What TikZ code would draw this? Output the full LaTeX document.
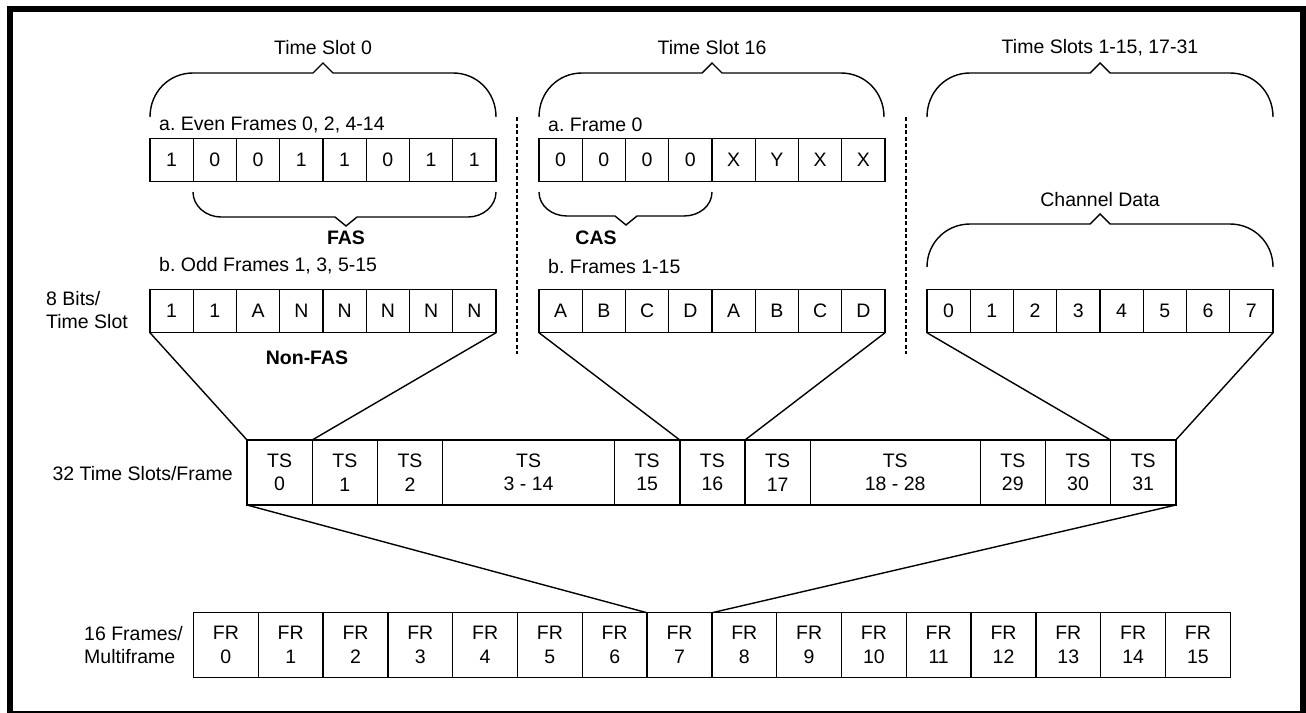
\documentclass[tikz,border=0pt]{standalone}
\usepackage{fontspec}
\setmainfont{Liberation Sans}
\usepackage{tikz}
\usetikzlibrary{positioning}
\newcommand{\cellfont}{\fontsize{19.5pt}{23.5pt}\selectfont}
\frenchspacing

\begin{document}
\begin{tikzpicture}[
    x=1pt, y=-1pt,
    bit/.style={rectangle, draw, line width=1.4pt, minimum width=43.25pt, minimum height=43.5pt, inner sep=0pt, outer sep=0pt, font=\cellfont},
    slot/.style={rectangle, draw, line width=1.4pt, minimum width=65.2pt, minimum height=65pt, inner sep=0pt, outer sep=0pt, align=center, font=\cellfont},
    fr/.style={rectangle, draw, line width=1.4pt, minimum width=64.8pt, minimum height=64.5pt, inner sep=0pt, outer sep=0pt, align=center, font=\cellfont},
    lbl/.style={inner sep=0pt, align=left, font=\cellfont},
    bold/.style={inner sep=0pt, font=\cellfont\bfseries},
    link/.style={line width=1.4pt},
    brace/.style={line width=1.4pt},
    sep/.style={line width=1.4pt, dash pattern=on 4pt off 2.5pt}
]
\useasboundingbox (0,0) rectangle (1306,712);
\draw[line width=6pt] (10,9) rectangle (1303,714);

% Time slot 0
\node[lbl] (tslot0) at (323,48) {Time Slot 0};
\draw[brace] (150,117) .. controls (150,92) and (169,73) .. (193,73) -- (313,73) -- (323,63) -- (333,73) -- (453,73) .. controls (477,73) and (496,92) .. (496,117);
\node[lbl, anchor=west] (evenlbl) at (159,125) {a. Even Frames 0, 2, 4-14};
\foreach \b [count=\i] in {1,0,0,1,1,0,1,1}
  \node[bit] (even\i) at ({150+43.25*(\i-0.5)},160) {\b};
\draw[brace] (193,192) .. controls (193,206) and (206,217) .. (221,217) -- (335,217) -- (346,226) -- (357,217) -- (468,217) .. controls (483,217) and (496,206) .. (496,192);
\node[bold] (fas) at (346,238) {FAS};
\node[lbl, anchor=west] (oddlbl) at (159,266) {b. Odd Frames 1, 3, 5-15};
\foreach \b [count=\i] in {1,1,A,N,N,N,N,N}
  \node[bit] (odd\i) at ({150+43.25*(\i-0.5)},311) {\b};
\node[bold] (nonfas) at (307,358) {Non-FAS};
\node[lbl, anchor=west] (bitslbl) at (46,310) {8 Bits/\\Time Slot};

% Time slot 16
\node[lbl] (tslot16) at (712,48) {Time Slot 16};
\draw[brace] (539,117) .. controls (539,92) and (558,73) .. (582,73) -- (702,73) -- (712,63) -- (722,73) -- (841,73) .. controls (865,73) and (884,92) .. (884,117);
\node[lbl, anchor=west] (fzerolbl) at (548,125) {a. Frame 0};
\foreach \b [count=\i] in {0,0,0,0,X,Y,X,X}
  \node[bit] (fzero\i) at ({539+43.25*(\i-0.5)},160) {\b};
\draw[brace] (539,192) .. controls (539,206) and (552,216) .. (567,216) -- (615,216) -- (626,225) -- (637,216) -- (684,216) .. controls (699,216) and (712,206) .. (712,192);
\node[bold] (cas) at (596,238) {CAS};
\node[lbl, anchor=west] (fmultilbl) at (548,267) {b. Frames 1-15};
\foreach \b [count=\i] in {A,B,C,D,A,B,C,D}
  \node[bit] (fmulti\i) at ({539+43.25*(\i-0.5)},311) {\b};

% Channel time slots
\node[lbl] (tslots) at (1100,48) {Time Slots 1-15, 17-31};
\draw[brace] (927,117) .. controls (927,92) and (946,73) .. (970,73) -- (1090,73) -- (1100,63) -- (1110,73) -- (1230,73) .. controls (1254,73) and (1273,92) .. (1273,117);
\node[lbl] (chdata) at (1100,200) {Channel Data};
\draw[brace] (927,267) .. controls (927,243) and (946,224) .. (970,224) -- (1090,224) -- (1100,214) -- (1110,224) -- (1230,224) .. controls (1254,224) and (1273,243) .. (1273,267);
\foreach \b [count=\i] in {0,...,7}
  \node[bit] (chan\i) at ({927+43.25*(\i-0.5)},311) {\b};

% separators
\draw[sep] (517,117) -- (517,354);
\draw[sep] (906,117) -- (906,354);

% 32 time slots
\node[lbl, anchor=east] (tslbl) at (233,474) {32 Time Slots/Frame};
\node[slot] (ts0) at (279.6,472.5) {TS\\0};
\node[slot, right=0pt of ts0] (ts1) {TS\\1};
\node[slot, right=0pt of ts1] (ts2) {TS\\2};
\node[slot, minimum width=172pt, right=0pt of ts2] (ts3) {TS\\3 - 14};
\node[slot, right=0pt of ts3] (ts15) {TS\\15};
\node[slot, right=0pt of ts15] (ts16) {TS\\16};
\node[slot, right=0pt of ts16] (ts17) {TS\\17};
\node[slot, minimum width=170pt, right=0pt of ts17] (ts18) {TS\\18 - 28};
\node[slot, right=0pt of ts18] (ts29) {TS\\29};
\node[slot, right=0pt of ts29] (ts30) {TS\\30};
\node[slot, right=0pt of ts30] (ts31) {TS\\31};

\draw[link] (odd1.south west) -- (ts0.north west);
\draw[link] (odd8.south east) -- (ts1.north west);
\draw[link] (fmulti1.south west) -- (ts16.north west);
\draw[link] (fmulti8.south east) -- (ts17.north west);
\draw[link] (chan1.south west) -- (ts31.north west);
\draw[link] (chan8.south east) -- (ts31.north east);

% 16 frames
\node[lbl, anchor=west] (frlbl) at (84,645) {16 Frames/\\Multiframe};
\foreach \i in {0,...,15}
  \node[fr] (fr\i) at ({193.5+64.8*(\i+0.5)},645) {FR\\\i};

\draw[link] (ts0.south west) -- (fr7.north west);
\draw[link] (ts31.south east) -- (fr8.north west);

\end{tikzpicture}
\end{document}
